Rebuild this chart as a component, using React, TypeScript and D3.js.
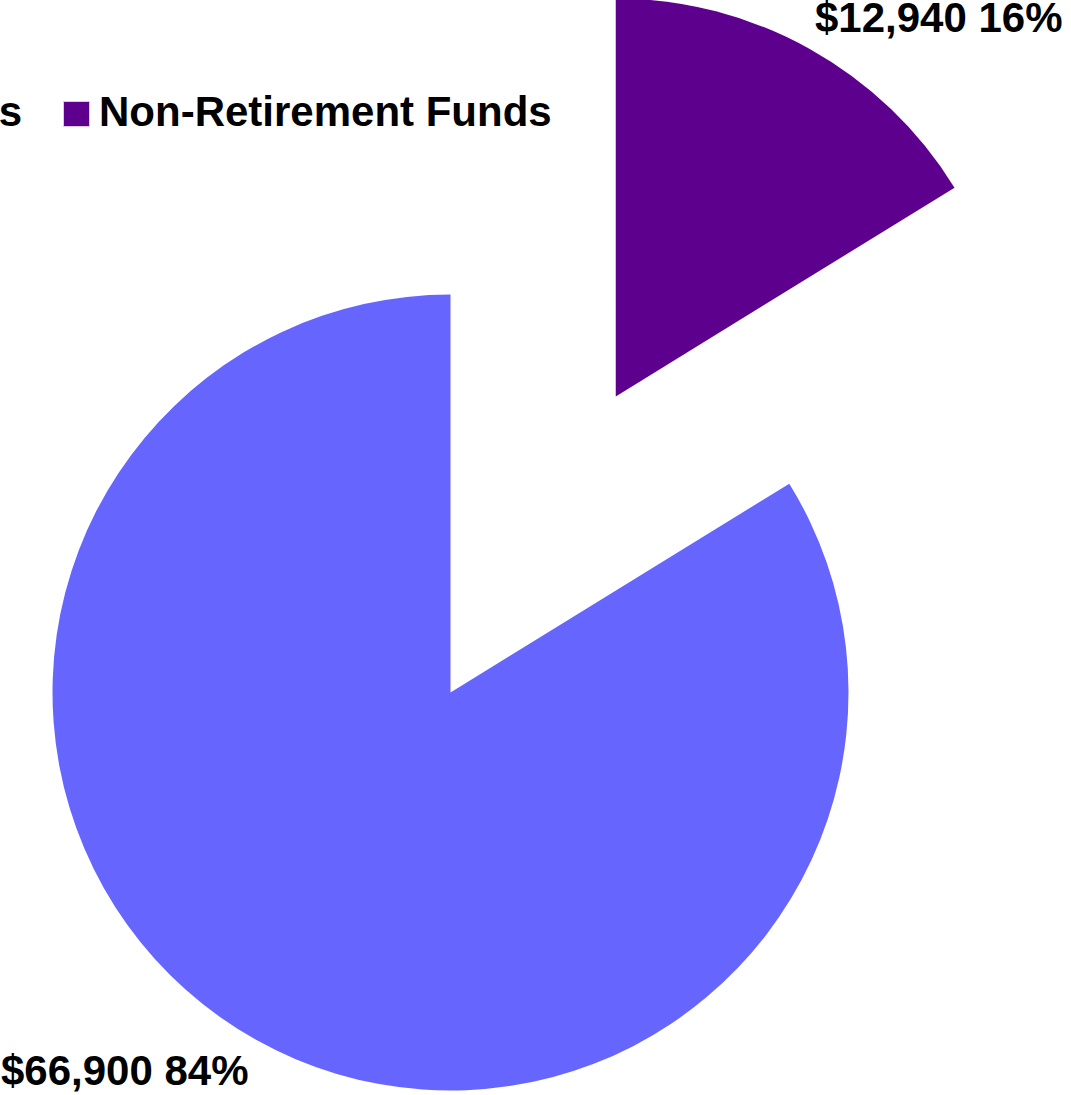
import React from "react";
import * as d3 from "d3";

const categories = ["Retirement Funds", "Non-Retirement Funds"];
const values = [66900, 12940];
const valueLabels = ["$66,900 84%", "$12,940 16%"];
const colors = ["#6666FF", "#5E008E"];

const W = 1071;
const H = 1095;
const CX = 450.5;
const CY = 692.5;
const R = 398;
const EXPLODE = 339;
const FONT = "'Liberation Sans', Arial, Helvetica, sans-serif";
const FS = 42;

export default function App() {
  // Non-retirement slice drawn first from 12 o'clock clockwise
  const order = [1, 0];
  const pie = d3
    .pie<number>()
    .sort(null)
    .value((i) => values[i])
    .startAngle(0)
    .endAngle(2 * Math.PI);
  const arcs = pie(order);
  const arcGen = d3.arc<d3.PieArcDatum<number>>().innerRadius(0).outerRadius(R);

  const labelPos: Record<number, { x: number; y: number }> = {
    0: { x: 1, y: 1085 },
    1: { x: 815, y: 32 },
  };

  return (
    <svg
      width={W}
      height={H}
      style={{ position: "absolute", left: 0, top: 0, background: "#fff" }}
    >
      <g transform={`translate(${CX},${CY})`}>
        {arcs.map((a) => {
          const i = a.data;
          const mid = (a.startAngle + a.endAngle) / 2;
          const off = i === 1 ? EXPLODE : 0;
          const dx = Math.sin(mid) * off;
          const dy = -Math.cos(mid) * off;
          return (
            <path
              key={i}
              d={arcGen(a) || ""}
              fill={colors[i]}
              transform={`translate(${dx},${dy})`}
            />
          );
        })}
      </g>
      {arcs.map((a) => {
        const i = a.data;
        return (
          <text
            key={"l" + i}
            x={labelPos[i].x}
            y={labelPos[i].y}
            fontFamily={FONT}
            fontWeight="bold"
            fontSize={FS}
            fill="#000"
          >
            {valueLabels[i]}
          </text>
        );
      })}
      {/* Legend */}
      <g fontFamily={FONT} fontWeight="bold" fontSize={FS}>
        <text x={22} y={126} textAnchor="end" fill="#000">
          {categories[0]}
        </text>
        <rect x={-371} y={101.5} width={26} height={25} fill={colors[0]} stroke="#d8d8ff" strokeWidth={1} />
        <rect x={63.5} y={101.5} width={26} height={25} fill={colors[1]} stroke="#d8c8ff" strokeWidth={1} />
        <text x={99} y={126} fill="#000">
          {categories[1]}
        </text>
      </g>
    </svg>
  );
}
